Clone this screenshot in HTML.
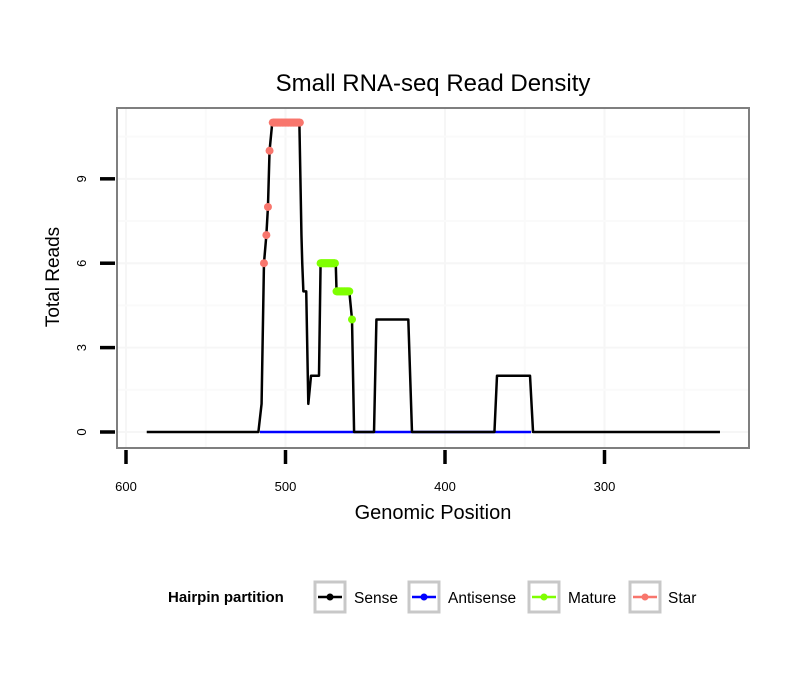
<!DOCTYPE html>
<html><head><meta charset="utf-8"><style>body{margin:0;background:#fff}svg{font-family:"Liberation Sans",sans-serif}</style></head>
<body>
<svg id="c" width="810" height="690"></svg>
<script>
const sensePos=[587,517,515,513.5,512,511,510,508.3,491.3,490,489.5,488.8,487,485.7,484,479,478,468.5,468,460,458.3,457,444.5,443,423,420.7,369,367.4,346.7,344.8,227.6];
const senseVal=[0,0,1,6,7,8,10,11,11,7,6,5,5,1,2,2,6,6,5,5,4,0,0,4,4,0,0,2,2,0,0];
const antiPos=[516,346];
const antiVal=[0,0];
const starPos=[513.5,512,511,510,508,507,506,505,504,503,502,501,500,499,498,497,496,495,494,493,492,491];
const starVal=[6,7,8,10,11,11,11,11,11,11,11,11,11,11,11,11,11,11,11,11,11,11];
const maturePos=[478,477,476,475,474,473,472,471,470,469,468,467,466,465,464,463,462,461,460,458.3];
const matureVal=[6,6,6,6,6,6,6,6,6,6,5,5,5,5,5,5,5,5,5,4];
const xTicks=[600,500,400,300];
const yTicks=[0,3,6,9];
const legendLabels=["Sense","Antisense","Mature","Star"];
const legendColors=["#000","#0000ff","#7fff00","#f8766d"];

const svg=document.getElementById('c');const NS='http://www.w3.org/2000/svg';
function el(t,a,p){const e=document.createElementNS(NS,t);for(const k in a)e.setAttribute(k,a[k]);(p||svg).appendChild(e);return e;}
const X=v=>126+(600-v)*1.595;
const Y=v=>432-v*28.13;
const L=117,R=749,T=108,B=448;
let g=el('g',{});
[650,550,450,350,250].forEach(v=>{if(X(v)>L&&X(v)<R)el('line',{x1:X(v),x2:X(v),y1:T,y2:B,stroke:'#fafafa','stroke-width':2},g)});
xTicks.forEach(v=>el('line',{x1:X(v),x2:X(v),y1:T,y2:B,stroke:'#f6f6f6','stroke-width':2},g));
[1.5,4.5,7.5,10.5].forEach(v=>el('line',{x1:L,x2:R,y1:Y(v),y2:Y(v),stroke:'#fafafa','stroke-width':2},g));
yTicks.forEach(v=>el('line',{x1:L,x2:R,y1:Y(v),y2:Y(v),stroke:'#f6f6f6','stroke-width':2},g));
function line(P,V,c,n){const e=el('polyline',{points:P.map((p,i)=>X(p)+','+Y(V[i])).join(' '),fill:'none',stroke:c,'stroke-width':2.5,'stroke-linejoin':'round'});}
line(antiPos,antiVal,'#0000ff','antisense-line');
line(sensePos,senseVal,'#000','sense-line');
function pts(P,V,c,n){const gg=el('g',{});
P.forEach((p,i)=>{el('circle',{cx:X(p),cy:Y(V[i]),r:4,fill:c},gg);
if(i>0&&V[i]===V[i-1])el('line',{x1:X(P[i-1]),x2:X(p),y1:Y(V[i]),y2:Y(V[i]),stroke:c,'stroke-width':8},gg);});}
pts(maturePos,matureVal,'#7fff00','mature-series');
pts(starPos,starVal,'#f8766d','star-series');
const fr=el('rect',{x:L,y:T,width:R-L,height:B-T,fill:'none',stroke:'#7f7f7f','stroke-width':2});
xTicks.forEach(v=>{el('line',{x1:X(v),x2:X(v),y1:450,y2:464,stroke:'#000','stroke-width':3.5});const t=el('text',{x:X(v),y:491,'text-anchor':'middle','font-size':13},svg);t.textContent=v;});
yTicks.forEach(v=>{el('line',{x1:100,x2:115,y1:Y(v),y2:Y(v),stroke:'#000','stroke-width':3.5});const t=el('text',{x:86,y:Y(v),'text-anchor':'middle','font-size':13,transform:`rotate(-90 86 ${Y(v)})`},svg);t.textContent=v;});
const lx=[313,407,527,628],tx=[354,448,568,668];
legendLabels.forEach((s,i)=>{const gg=el('g',{});
el('rect',{x:lx[i]+2,y:582,width:30,height:30,fill:'#fff',stroke:'#c8c8c8','stroke-width':3},gg);
el('line',{x1:lx[i]+5,x2:lx[i]+29,y1:597,y2:597,stroke:legendColors[i],'stroke-width':2.5},gg);
el('circle',{cx:lx[i]+17,cy:597,r:3.5,fill:legendColors[i]},gg);
const t=el('text',{x:tx[i],y:603,'font-size':15.5},gg);t.textContent=s;});
</script>
<div style="position:absolute;left:0;top:0;width:810px;height:690px;pointer-events:none;font-family:'Liberation Sans',sans-serif">
<div style="position:absolute;left:0;width:866px;top:70px;text-align:center;font-size:24px">Small RNA-seq Read Density</div>
<div style="position:absolute;left:0;width:866px;top:502px;text-align:center;font-size:20px">Genomic Position</div>
<div style="position:absolute;left:-46px;top:266px;width:200px;text-align:center;font-size:19px;transform:rotate(-90deg)">Total Reads</div>
<div style="position:absolute;left:168px;top:589px;font-size:15px;font-weight:bold">Hairpin partition</div>
</div>
</body></html>
